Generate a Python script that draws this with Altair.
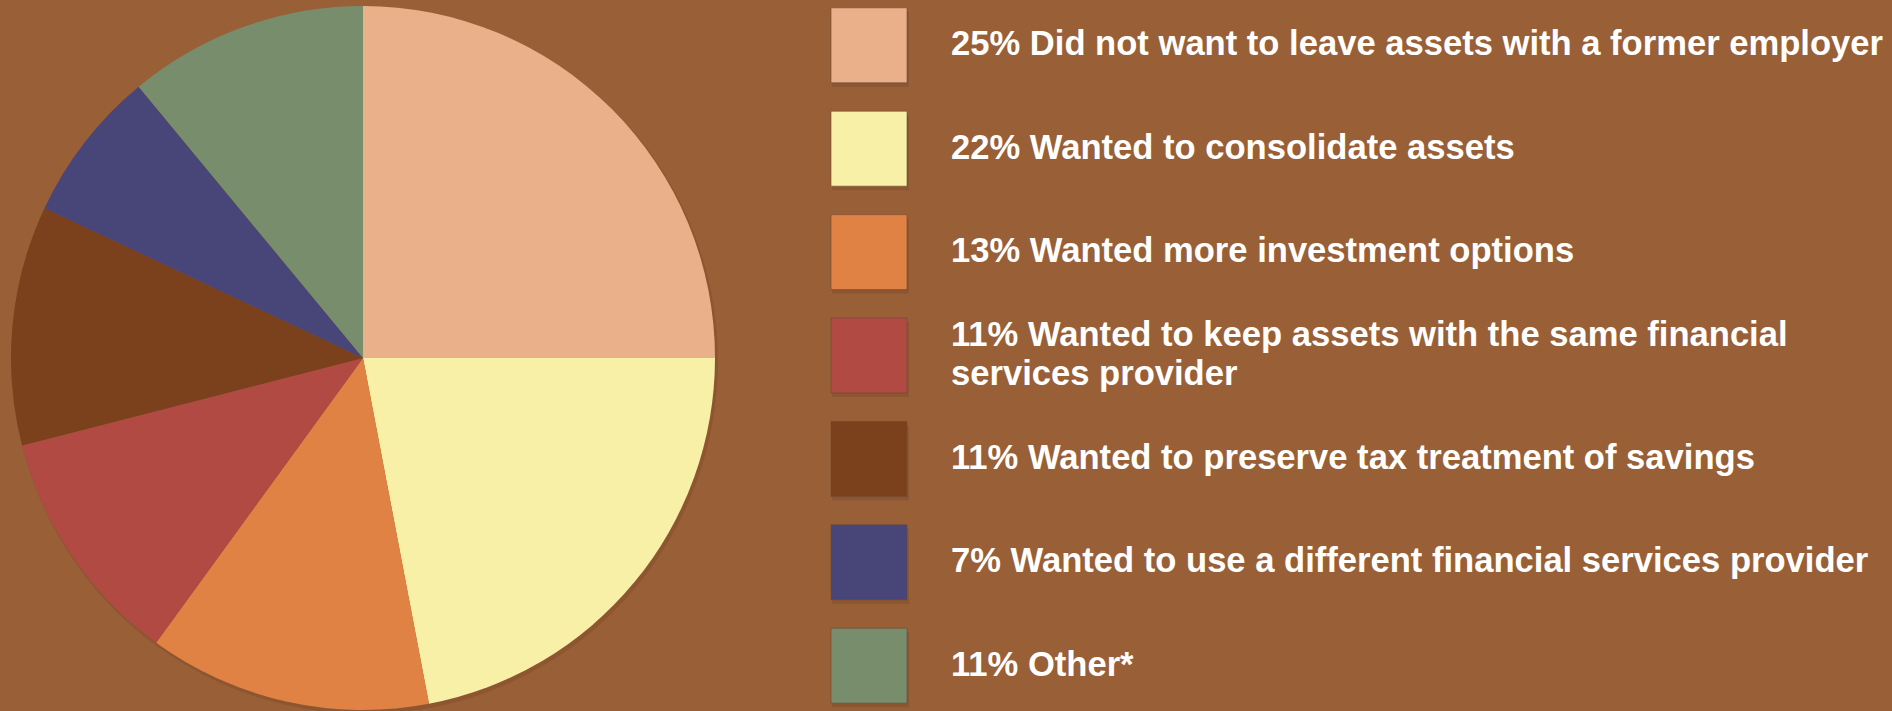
import altair as alt
import pandas as pd

# Data
categories = [
    "Did not want to leave assets with a former employer",
    "Wanted to consolidate assets",
    "Wanted more investment options",
    "Wanted to keep assets with the same financial services provider",
    "Wanted to preserve tax treatment of savings",
    "Wanted to use a different financial services provider",
    "Other*",
]
percents = [25, 22, 13, 11, 11, 7, 11]
legend_labels = [
    "25% Did not want to leave assets with a former employer",
    "22% Wanted to consolidate assets",
    "13% Wanted more investment options",
    "11% Wanted to keep assets with the same financial\nservices provider",
    "11% Wanted to preserve tax treatment of savings",
    "7% Wanted to use a different financial services provider",
    "11% Other*",
]
line_counts = [1, 1, 1, 2, 1, 1, 1]
colors = ["#EAB08A", "#F8F0A7", "#E08243", "#B04A43", "#7B401C", "#484579", "#788D6C"]
background = "#995F37"

df = pd.DataFrame({
    "category": categories,
    "percent": percents,
    "label": legend_labels,
    "lines": line_counts,
    "order": list(range(len(categories))),
})

color_scale = alt.Scale(domain=categories, range=colors)
y_band = alt.Y(
    "category:N",
    sort=categories,
    scale=alt.Scale(paddingInner=0.275, paddingOuter=0.0755),
    axis=None,
)

base = alt.Chart(df)

pie_shadow = base.mark_arc(color="#5a3018", opacity=0.18, strokeWidth=0).encode(
    theta=alt.Theta("percent:Q", stack=True),
    order=alt.Order("order:Q"),
    x=alt.value(365),
    y=alt.value(361),
    radius=alt.value(353),
)

pie = base.mark_arc(strokeWidth=0).encode(
    theta=alt.Theta("percent:Q", stack=True),
    color=alt.Color("category:N", scale=color_scale, legend=None),
    order=alt.Order("order:Q"),
    x=alt.value(363),
    y=alt.value(358),
    radius=alt.value(352),
)

box_shadow = base.mark_rect(color="#5a3018", opacity=0.2).encode(
    y=y_band,
    x=alt.value(832),
    x2=alt.value(909),
    yOffset=alt.value(4),
)

boxes = base.mark_rect(stroke="#6b4a3a", strokeWidth=1, strokeOpacity=0.6).encode(
    y=y_band,
    x=alt.value(831),
    x2=alt.value(907),
    color=alt.Color("category:N", scale=color_scale, legend=None),
)

text_style = dict(
    align="left",
    baseline="middle",
    font="Liberation Sans",
    fontWeight="bold",
    fontSize=34.6,
    color="white",
    lineBreak="\n",
    lineHeight=39,
)

texts_single = base.transform_filter("datum.lines == 1").mark_text(**text_style).encode(
    y=y_band,
    x=alt.value(951),
    text="label:N",
)

texts_double = base.transform_filter("datum.lines == 2").mark_text(dy=-19.5, **text_style).encode(
    y=y_band,
    x=alt.value(951),
    text="label:N",
)

chart = alt.layer(pie_shadow, pie, box_shadow, boxes, texts_single, texts_double).properties(
    width=1892,
    height=711,
    background=background,
    padding=0,
    autosize=alt.AutoSizeParams(type="none"),
).configure_view(stroke=None)

chart.save("out.html", embed_options={"renderer": "svg", "actions": False})
